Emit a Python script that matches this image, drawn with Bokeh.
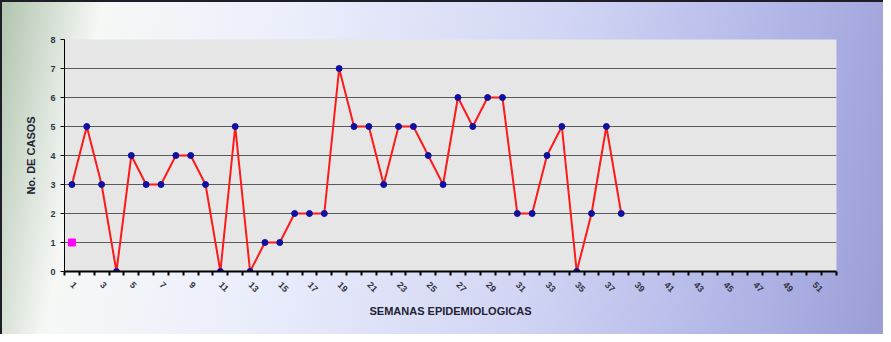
import math
from bokeh.plotting import figure
from bokeh.models import FixedTicker, Range1d, ColumnDataSource
from bokeh.embed import file_html
from bokeh.resources import INLINE

weeks = list(range(1, 39))
cases = [3, 5, 3, 0, 4, 3, 3, 4, 4, 3, 0, 5, 0, 1, 1, 2, 2, 2, 7, 5,
         5, 3, 5, 5, 4, 3, 6, 5, 6, 6, 2, 2, 4, 5, 0, 2, 5, 2]
extra_weeks = [1]
extra_cases = [1]
n_weeks = 52
tick_weeks = list(range(1, 52, 2))
y_ticks = list(range(0, 9))

p = figure(width=883, height=334, output_backend="svg", toolbar_location=None,
           x_range=Range1d(0.5, n_weeks + 0.5), y_range=Range1d(0, 8),
           min_border_left=64, min_border_right=47, min_border_top=39, min_border_bottom=63)
p.border_fill_color = None
p.outline_line_color = None
p.styles = {
    "background-image": "linear-gradient(100deg, #afc3ac 0%, #f6f8f6 11%, #eceffb 30%, #d2d6f4 60%, #b4b8e8 82%, #9a9ed6 100%)",
    "box-shadow": "inset 2px 2px 0 #1e1e28",
}
p.background_fill_color = "#e6e6e6"

p.xgrid.grid_line_color = None
p.ygrid.grid_line_color = "#5a5a5a"
p.ygrid.grid_line_width = 1

p.xaxis.ticker = FixedTicker(ticks=tick_weeks, minor_ticks=[w + 0.5 for w in range(0, n_weeks + 1)])
p.xaxis.major_tick_out = 0
p.xaxis.major_tick_in = 0
p.xaxis.minor_tick_out = 4
p.xaxis.minor_tick_in = 0
p.xaxis.minor_tick_line_color = "black"
p.xaxis.minor_tick_line_width = 2
p.xaxis.axis_line_color = "black"
p.xaxis.axis_line_width = 2
p.xaxis.major_label_orientation = -math.pi / 4
p.xaxis.major_label_standoff = 8

p.yaxis.ticker = FixedTicker(ticks=y_ticks)
p.yaxis.minor_tick_line_color = None
p.yaxis.major_tick_out = 4
p.yaxis.major_tick_in = 0
p.yaxis.axis_line_color = "black"
p.yaxis.axis_line_width = 1

for ax in (p.xaxis, p.yaxis):
    ax.major_label_text_font = "Liberation Sans"
    ax.major_label_text_font_size = "9px"
    ax.major_label_text_font_style = "bold"
    ax.major_label_text_color = "#333344"
    ax.axis_label_text_font = "Liberation Sans"
    ax.axis_label_text_font_size = "11px"
    ax.axis_label_text_font_style = "bold"
    ax.axis_label_text_color = "#222233"

p.xaxis.axis_label = "SEMANAS EPIDEMIOLOGICAS"
p.yaxis.axis_label = "No. DE CASOS"
p.xaxis.axis_label_standoff = 7
p.yaxis.axis_label_standoff = 10

src = ColumnDataSource(dict(x=weeks, y=cases))
p.line("x", "y", source=src, line_color="#ff1a1a", line_width=2)
p.scatter("x", "y", source=src, size=6, fill_color="#1010a0", line_color="#1010a0")
p.scatter(extra_weeks, extra_cases, marker="square", size=7, fill_color="#ff00ff", line_color="#ff00ff")

open("out.html", "w").write(file_html(p, INLINE))
